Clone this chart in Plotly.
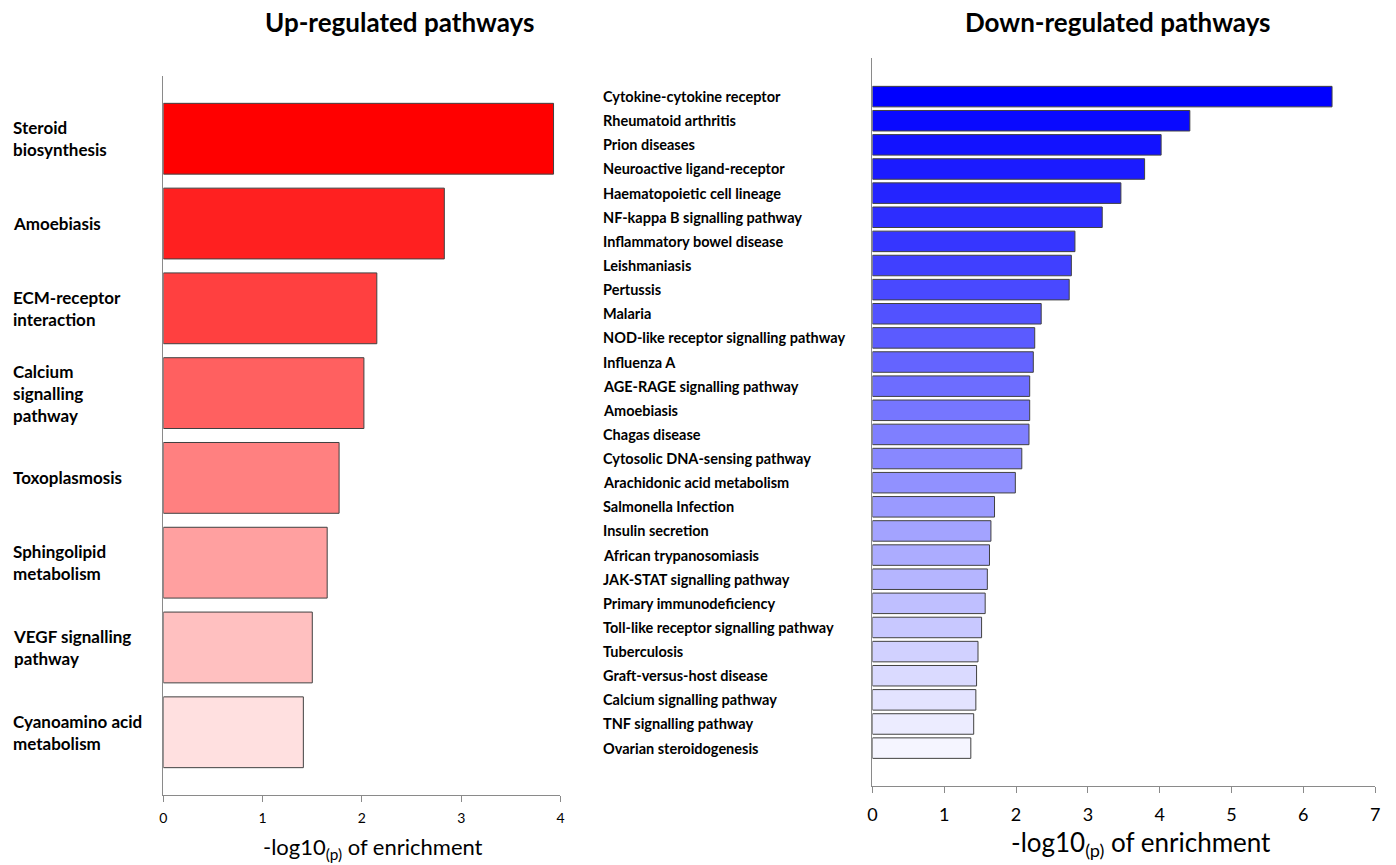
import plotly.graph_objects as go

# ---------------- data ----------------
up_pathways = [
    "Steroid<br>biosynthesis",
    "Amoebiasis",
    "ECM-receptor<br>interaction",
    "Calcium<br>signalling<br>pathway",
    "Toxoplasmosis",
    "Sphingolipid<br>metabolism",
    "VEGF signalling<br>pathway",
    "Cyanoamino acid<br>metabolism",
]
up_values = [3.93, 2.83, 2.15, 2.02, 1.77, 1.65, 1.50, 1.41]

down_pathways = [
    "Cytokine-cytokine receptor",
    "Rheumatoid arthritis",
    "Prion diseases",
    "Neuroactive ligand-receptor",
    "Haematopoietic cell lineage",
    "NF-kappa B signalling pathway",
    "Inflammatory bowel disease",
    "Leishmaniasis",
    "Pertussis",
    "Malaria",
    "NOD-like receptor signalling pathway",
    "Influenza A",
    "AGE-RAGE signalling pathway",
    "Amoebiasis",
    "Chagas disease",
    "Cytosolic DNA-sensing pathway",
    "Arachidonic acid metabolism",
    "Salmonella Infection",
    "Insulin secretion",
    "African trypanosomiasis",
    "JAK-STAT signalling pathway",
    "Primary immunodeficiency",
    "Toll-like receptor signalling pathway",
    "Tuberculosis",
    "Graft-versus-host disease",
    "Calcium signalling pathway",
    "TNF signalling pathway",
    "Ovarian steroidogenesis",
]
down_values = [6.40, 4.42, 4.02, 3.79, 3.46, 3.20, 2.82, 2.77, 2.74, 2.35,
               2.26, 2.24, 2.19, 2.19, 2.18, 2.08, 1.99, 1.70, 1.65, 1.63,
               1.60, 1.57, 1.52, 1.47, 1.45, 1.44, 1.41, 1.37]

up_ticks = [0, 1, 2, 3, 4]
down_ticks = [0, 1, 2, 3, 4, 5, 6, 7]

titles = ["Up-regulated pathways", "Down-regulated pathways"]
axis_title = "-log10<sub>(p)</sub> of enrichment"

# ---------------- styles ----------------
FONT = "Lato, 'Open Sans', sans-serif"
W, H = 1396, 865

def red_shade(i, n):
    t = i / (n - 1)
    g = int(round(0 + t * 224))
    return f"rgb(255,{g},{g})"

def blue_shade(i, n):
    t = i / (n - 1)
    v = int(round(t * 245))
    return f"rgb({v},{v},255)"

up_colors = [red_shade(i, len(up_values)) for i in range(len(up_values))]
down_colors = [blue_shade(i, len(down_values)) for i in range(len(down_values))]

fig = go.Figure()

fig.add_trace(go.Bar(
    x=up_values, y=up_pathways, orientation="h",
    marker=dict(color=up_colors, line=dict(color="#404040", width=1)),
    width=0.835, xaxis="x", yaxis="y", showlegend=False, hoverinfo="x+y",
))
fig.add_trace(go.Bar(
    x=down_values, y=down_pathways, orientation="h",
    marker=dict(color=down_colors, line=dict(color="#404040", width=1)),
    width=0.85, xaxis="x2", yaxis="y2", showlegend=False, hoverinfo="x+y",
))

axis_color = "#8a8a8a"
nu, nd = len(up_pathways), len(down_pathways)

fig.update_layout(
    width=W, height=H,
    margin=dict(l=0, r=0, t=0, b=0),
    paper_bgcolor="white", plot_bgcolor="white",
    font=dict(family=FONT, color="black"),
    xaxis=dict(domain=[159.5 / W, 559.5 / W], range=[0, 4], anchor="y",
               tickvals=up_ticks, showgrid=False, zeroline=False,
               showline=True, linecolor=axis_color, linewidth=1,
               ticks="outside", ticklen=6, tickcolor=axis_color,
               tickfont=dict(size=14, family=FONT), ticklabelstandoff=4),
    yaxis=dict(domain=[1 - 795 / H, 1 - 76 / H], anchor="x",
               type="category", categoryorder="array", categoryarray=up_pathways,
               range=[nu - 1 + 0.74, -0.74],
               showticklabels=False, showgrid=False, zeroline=False,
               showline=True, linecolor=axis_color, linewidth=1, ticks=""),
    xaxis2=dict(domain=[873.7 / W, 1380 / W], range=[0, 7], anchor="y2",
                tickvals=down_ticks, showgrid=False, zeroline=False,
                showline=True, linecolor=axis_color, linewidth=1,
                ticks="outside", ticklen=6, tickcolor=axis_color,
                tickfont=dict(size=18, family=FONT), ticklabelstandoff=6),
    yaxis2=dict(domain=[1 - 786 / H, 1 - 58 / H], anchor="x2",
                type="category", categoryorder="array", categoryarray=down_pathways,
                range=[nd - 1 + 1.57, -1.6],
                showticklabels=False, showgrid=False, zeroline=False,
                showline=True, linecolor=axis_color, linewidth=1, ticks=""),
    bargap=0.15,
)

ann = []
# panel titles
ann.append(dict(text=f"<b>{titles[0]}</b>", x=397 / W, y=1 - 22 / H, xref="paper", yref="paper",
                xanchor="center", yanchor="middle", showarrow=False,
                font=dict(size=26, family=FONT)))
ann.append(dict(text=f"<b>{titles[1]}</b>", x=1121 / W, y=1 - 22 / H, xref="paper", yref="paper",
                xanchor="center", yanchor="middle", showarrow=False,
                font=dict(size=26, family=FONT)))
# axis titles
ann.append(dict(text=axis_title, x=371 / W, y=1 - 848 / H, xref="paper", yref="paper",
                xanchor="center", yanchor="middle", showarrow=False,
                font=dict(size=22, family=FONT)))
ann.append(dict(text=axis_title, x=1144 / W, y=1 - 843 / H, xref="paper", yref="paper",
                xanchor="center", yanchor="middle", showarrow=False,
                font=dict(size=26, family=FONT)))
# category labels (left-aligned)
for name in up_pathways:
    ann.append(dict(text=f"<b>{name}</b>", x=6 / W, y=name, xref="paper", yref="y",
                    xanchor="left", yanchor="middle", align="left", showarrow=False,
                    font=dict(size=17, family=FONT)))
for name in down_pathways:
    ann.append(dict(text=f"<b>{name}</b>", x=600 / W, y=name, xref="paper", yref="y2",
                    xanchor="left", yanchor="middle", align="left", showarrow=False,
                    font=dict(size=14.5, family=FONT)))
fig.update_layout(annotations=ann)

fig.write_html("out.html",
               config={"displayModeBar": False},
               post_script="document.body.style.margin='0';document.body.style.padding='0';")
